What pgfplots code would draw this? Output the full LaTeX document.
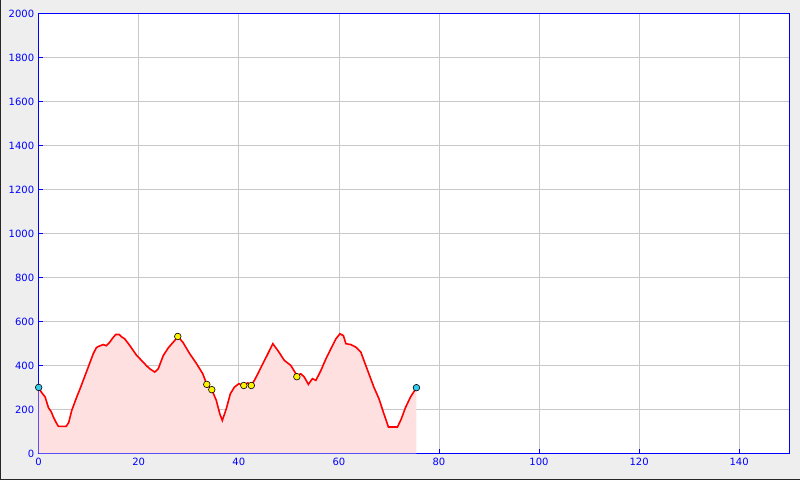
\documentclass[border=0pt]{standalone}
\usepackage{pgfplots}
\pgfplotsset{compat=1.18}
\usepackage{fontspec}
\setmainfont{DejaVu Sans}
\definecolor{bgg}{RGB}{238,238,238}
\definecolor{fillpink}{RGB}{255,224,224}
\definecolor{gridg}{RGB}{200,200,200}
\definecolor{tickblue}{RGB}{0,0,255}
\definecolor{ptcyan}{RGB}{51,204,238}
\pgfplotstableread{
x y
0 300
0.5 280
1.3 256
1.95 208
2.5 190
2.95 165
3.5 140
3.95 123
5.5 123
6.0 140
6.6 195
7.6 256
8.2 290
8.9 332
9.9 392
10.9 453
11.5 480
11.9 486
12.9 495
13.5 490
14.2 506
14.8 525
15.4 541
16.1 541
16.6 530
17.2 521
18.2 491
19.6 445
20.9 415
21.5 400
22.2 385
23.2 370
23.9 385
24.9 445
25.9 480
27.2 514
27.8 532
28.8 506
30.2 453
31.5 410
32.8 362
33.6 314
34.6 290
35.5 241
36.2 180
36.7 150
37.5 203
38.3 271
39.1 301
40.0 317
41.0 309
41.8 321
42.5 309
43.1 332
43.8 362
44.8 408
45.8 453
46.8 499
47.8 468
49.1 423
50.4 400
51.6 355
52.4 362
53.1 347
53.9 314
54.7 340
55.4 332
56.4 377
57.4 430
58.4 476
59.4 521
60.2 544
60.9 536
61.4 499
62.4 495
63.4 483
64.4 460
65.0 423
66.0 362
67.0 301
68.0 249
69.0 180
69.9 120
71.7 120
72.4 153
73.3 208
74.3 256
75.5 299
}\profile
\pgfplotstableread{
x y
27.8 532
33.6 314
34.6 290
41.0 309
42.5 309
51.6 349
}\yellowpts
\pgfplotstableread{
x y
0 300
75.5 299
}\cyanpts
\begin{document}
\begin{tikzpicture}
\fill[bgg] (0,0) rectangle (800pt,480pt);
\draw[black!85, line width=1pt] (0.5pt,480pt) -- (0.5pt,0.5pt) -- (800pt,0.5pt);
\useasboundingbox (0,0) rectangle (800pt,480pt);
\begin{axis}[
  at={(38.7pt,26.8pt)}, anchor=south west,
  scale only axis, width=751pt, height=440pt,
  xmin=0, xmax=150, ymin=0, ymax=2000,
  xtick={0,20,...,140}, ytick={0,200,...,2000},
  xtick pos=left, ytick pos=left,
  tick align=inside,
  major tick length=4pt,
  tick style={tickblue, line width=0.8pt},
  grid=major, major grid style={gridg, line width=0.7pt},
  axis background/.style={fill=white},
  axis line style={tickblue, line width=1pt},
  /pgf/number format/assume math mode=true,
  /pgf/number format/1000 sep={},
  tick label style={font=\fontsize{10}{12}\selectfont, text=tickblue},
  xticklabel style={yshift=-1pt},
  yticklabel style={xshift=-1pt},
  clip=false,
]
\addplot[fill=fillpink, draw=none] table[x=x,y=y]{\profile} \closedcycle;
\addplot[red, line width=1.6pt] table[x=x,y=y]{\profile};
\addplot[only marks, mark=*, mark size=3.3pt, mark options={fill=yellow, draw=black, line width=0.6pt}] table[x=x,y=y]{\yellowpts};
\addplot[only marks, mark=*, mark size=3.3pt, mark options={fill=ptcyan, draw=black, line width=0.6pt}] table[x=x,y=y]{\cyanpts};
\end{axis}
\end{tikzpicture}
\end{document}
